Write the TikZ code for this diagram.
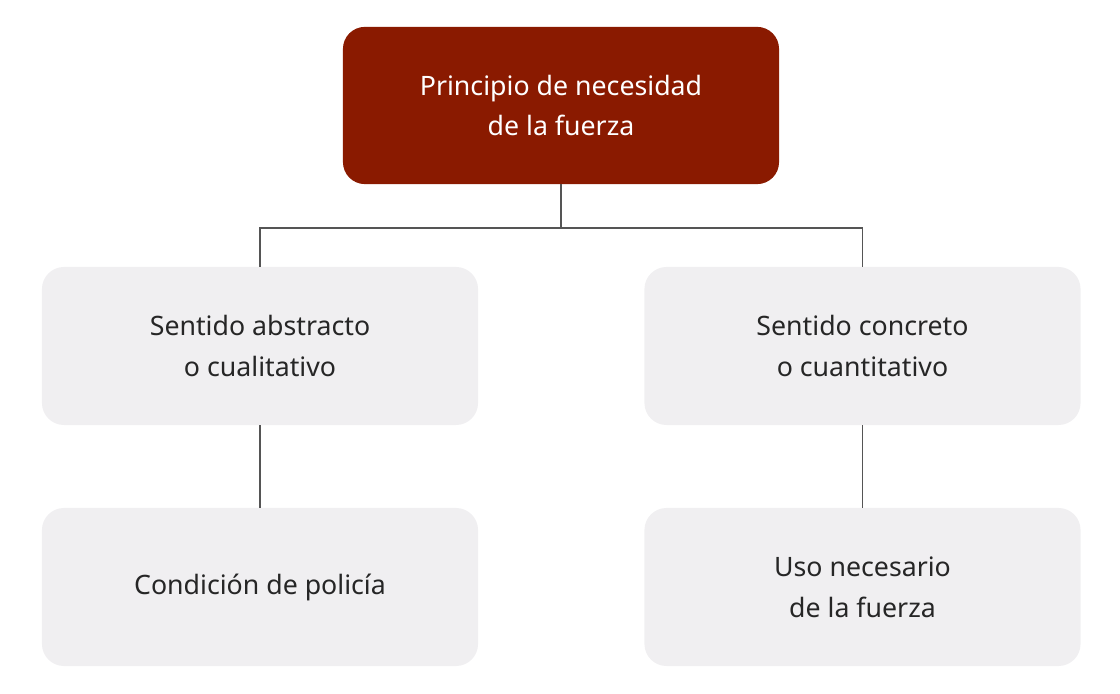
\documentclass[tikz,border=0pt]{standalone}
\usepackage{fontspec}
\setmainfont{Noto Sans}
\usetikzlibrary{positioning}
\definecolor{titlered}{HTML}{8A1A00}
\definecolor{boxgray}{HTML}{F0EFF1}
\definecolor{linegray}{HTML}{555555}
\begin{document}
\begin{tikzpicture}[x=0.025cm, y=-0.025cm,
    topbox/.style={fill=titlered, text=white, rounded corners=0.55cm,
      minimum width=10.9cm, minimum height=3.93cm, align=center,
      font=\fontsize{19}{29}\selectfont\bfseries},
    leafbox/.style={fill=boxgray, rounded corners=0.55cm,
      minimum width=10.9cm, minimum height=3.95cm, align=center,
      text=black!85, font=\fontsize{19}{29}\selectfont},
    link/.style={draw=linegray, line width=1.2pt}]
    %% Background
    \useasboundingbox (0,0) rectangle (1120,694);

    %% Boxes
    \node[topbox] (root) at (561,105.5) {Principio de necesidad\\de la fuerza};
    \node[leafbox] (abstr) at (260,346) {Sentido abstracto\\o cualitativo};
    \node[leafbox] (concr) at (862.5,346) {Sentido concreto\\o cuantitativo};
    \node[leafbox] (polic) at (260,587) {Condición de policía};
    \node[leafbox] (usone) at (862.5,587) {Uso necesario\\de la fuerza};

    %% Connectors
    \coordinate (split) at (561,228);
    \draw[link] (root.south) -- (split) -| (abstr.north);
    \draw[link] (split) -| (concr.north);
    \draw[link] (abstr.south) -- (polic.north);
    \draw[link] (concr.south) -- (usone.north);
\end{tikzpicture}
\end{document}
